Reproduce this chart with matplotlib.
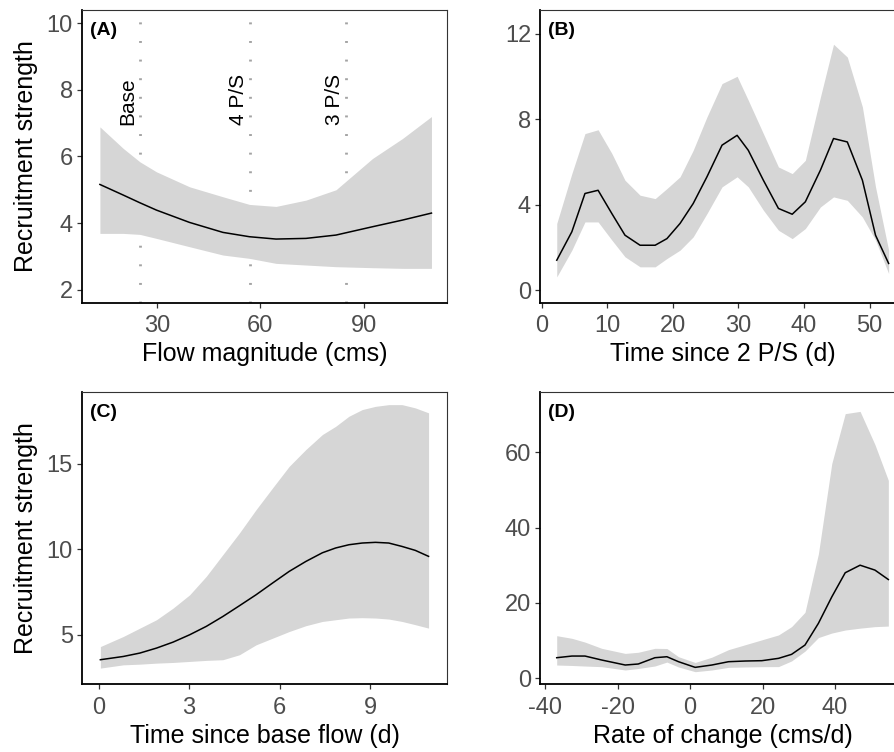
import matplotlib
matplotlib.use("Agg")
import matplotlib.pyplot as plt

plt.rcParams['font.family'] = ['Liberation Sans', 'DejaVu Sans']
plt.rcParams['axes.unicode_minus'] = False

# (A) flow magnitude
flow_x = [13.5, 20.3, 25.1, 29.9, 39.5, 49.2, 56.9, 64.6, 73.3, 82.0, 92.6, 101.3, 109.7]
flow_fit = [5.16, 4.84, 4.61, 4.39, 4.02, 3.72, 3.59, 3.52, 3.54, 3.64, 3.89, 4.09, 4.30]
flow_lo = [3.69, 3.69, 3.66, 3.54, 3.29, 3.04, 2.94, 2.79, 2.74, 2.69, 2.66, 2.64, 2.64]
flow_hi = [6.89, 6.24, 5.84, 5.54, 5.09, 4.79, 4.56, 4.50, 4.69, 5.00, 5.94, 6.54, 7.20]
ref_flows = [25.1, 57.1, 85.0]
ref_labels = ['Base', '4 P/S', '3 P/S']

# (B) time since 2 P/S
ps_x = [2.3, 4.6, 6.6, 8.6, 10.7, 12.7, 15.0, 17.3, 19.1, 21.1, 23.1, 25.2, 27.5,
        29.8, 31.5, 33.8, 36.1, 38.2, 40.2, 42.5, 44.5, 46.6, 48.9, 50.9, 52.9]
ps_fit = [1.40, 2.73, 4.52, 4.67, 3.58, 2.57, 2.10, 2.10, 2.41, 3.12, 4.05, 5.30, 6.78,
          7.24, 6.54, 5.14, 3.82, 3.55, 4.13, 5.61, 7.09, 6.93, 5.14, 2.57, 1.25]
ps_lo = [0.62, 1.87, 3.19, 3.19, 2.34, 1.56, 1.09, 1.09, 1.48, 1.87, 2.49, 3.58, 4.83,
         5.30, 4.83, 3.74, 2.80, 2.41, 2.88, 3.89, 4.36, 4.20, 3.42, 2.34, 0.78]
ps_hi = [3.12, 5.45, 7.32, 7.50, 6.39, 5.14, 4.44, 4.28, 4.75, 5.30, 6.54, 8.10, 9.66,
         10.0, 8.88, 7.32, 5.76, 5.45, 6.07, 9.03, 11.5, 10.9, 8.57, 4.83, 1.87]

# (C) time since base flow
base_x = [0.06, 0.82, 1.37, 1.92, 2.47, 3.02, 3.57, 4.12, 4.67, 5.22, 5.77,
          6.32, 6.87, 7.42, 7.86, 8.30, 8.74, 9.18, 9.62, 10.06, 10.50, 10.94]
base_fit = [3.54, 3.73, 3.93, 4.22, 4.57, 5.00, 5.49, 6.07, 6.70, 7.34, 8.03,
            8.71, 9.29, 9.80, 10.08, 10.27, 10.37, 10.41, 10.37, 10.17, 9.94, 9.59]
base_lo = [3.05, 3.24, 3.28, 3.34, 3.38, 3.44, 3.50, 3.54, 3.83, 4.41, 4.80,
           5.19, 5.53, 5.78, 5.88, 5.98, 6.00, 5.98, 5.92, 5.78, 5.59, 5.39]
base_hi = [4.31, 4.90, 5.39, 5.88, 6.56, 7.34, 8.42, 9.69, 10.96, 12.32, 13.60,
           14.86, 15.84, 16.72, 17.20, 17.79, 18.18, 18.37, 18.47, 18.47, 18.28, 17.99]

# (D) rate of change
rate_x = [-36.8, -32.6, -29.0, -24.4, -17.9, -14.3, -9.7, -6.4, -3.2, 1.4, 6.0, 10.6,
          15.2, 19.8, 24.4, 28.0, 31.7, 35.4, 39.1, 42.8, 46.9, 51.0, 54.7]
rate_fit = [5.46, 5.9, 5.9, 4.85, 3.52, 3.79, 5.46, 5.72, 4.4, 2.9, 3.52, 4.4,
            4.58, 4.67, 5.29, 6.35, 8.82, 14.57, 21.6, 28.0, 30.0, 28.7, 26.2]
rate_lo = [3.52, 3.4, 3.25, 3.08, 2.2, 2.6, 3.26, 4.3, 3.0, 1.75, 2.2, 2.9,
           3.0, 3.08, 3.1, 4.6, 7.2, 10.8, 12.0, 12.8, 13.3, 13.7, 13.85]
rate_hi = [11.3, 10.6, 9.6, 7.95, 6.6, 6.9, 7.95, 7.9, 5.72, 4.2, 5.6, 7.6,
           8.9, 10.2, 11.5, 13.7, 17.5, 33.0, 57.0, 70.2, 70.8, 62.0, 52.5]

RIBBON = '#d6d6d6'
TICKLAB = '#4d4d4d'


def style(ax, xlim, ylim, xticks, yticks, xlabel, tag, ylabel=None):
    ax.set_xlim(*xlim)
    ax.set_ylim(*ylim)
    ax.set_xticks(xticks)
    ax.set_yticks(yticks)
    ax.tick_params(length=3.5, width=0.9, color='#333333', labelsize=17,
                   labelcolor=TICKLAB)
    ax.tick_params(axis='x', pad=5.5)
    ax.tick_params(axis='y', pad=3)
    for side in ['top', 'right']:
        ax.spines[side].set_linewidth(0.8)
        ax.spines[side].set_color('#333333')
    for side in ['left', 'bottom']:
        ax.spines[side].set_linewidth(1.3)
        ax.spines[side].set_color('black')
    ax.set_xlabel(xlabel, fontsize=18, labelpad=3.5)
    if ylabel:
        ax.set_ylabel(ylabel, fontsize=18)
        ax.yaxis.set_label_coords(-0.12, 0.5)
    ax.text(0.022, 0.958, tag, transform=ax.transAxes, fontsize=14,
            fontweight='bold', ha='left', va='top')


fig = plt.figure(figsize=(8.95, 7.52), dpi=100)
axA = fig.add_axes([0.0916, 0.5971, 0.4078, 0.3896])
axB = fig.add_axes([0.6034, 0.5971, 0.4078, 0.3896])
axC = fig.add_axes([0.0916, 0.0900, 0.4078, 0.3885])
axD = fig.add_axes([0.6034, 0.0900, 0.4078, 0.3885])

# A
for xv, lab in zip(ref_flows, ref_labels):
    axA.axvline(xv, color='#a3a3a3', lw=2, ls=(0, (0.7, 6)), zorder=1)
    axA.annotate(lab, (xv, 6.95), xytext=(-8.5, 0), textcoords='offset points',
                 rotation=90, ha='center', va='bottom', fontsize=15)
axA.fill_between(flow_x, flow_lo, flow_hi, color=RIBBON, lw=0, zorder=2)
axA.plot(flow_x, flow_fit, color='black', lw=1.1, zorder=3)
style(axA, (8.3, 114.2), (1.6, 10.4), [30, 60, 90], [2, 4, 6, 8, 10],
      'Flow magnitude (cms)', '(A)', 'Recruitment strength')

# B
axB.fill_between(ps_x, ps_lo, ps_hi, color=RIBBON, lw=0)
axB.plot(ps_x, ps_fit, color='black', lw=1.1)
style(axB, (-0.25, 55.4), (-0.6, 13.1), [0, 10, 20, 30, 40, 50], [0, 4, 8, 12],
      'Time since 2 P/S (d)', '(B)')

# C
axC.fill_between(base_x, base_lo, base_hi, color=RIBBON, lw=0)
axC.plot(base_x, base_fit, color='black', lw=1.1)
style(axC, (-0.55, 11.55), (2.1, 19.2), [0, 3, 6, 9], [5, 10, 15],
      'Time since base flow (d)', '(C)', 'Recruitment strength')

# D
axD.fill_between(rate_x, rate_lo, rate_hi, color=RIBBON, lw=0)
axD.plot(rate_x, rate_fit, color='black', lw=1.1)
style(axD, (-41.4, 59.3), (-1.6, 75.9), [-40, -20, 0, 20, 40], [0, 20, 40, 60],
      'Rate of change (cms/d)', '(D)')

fig.savefig('out.png', dpi=100)
